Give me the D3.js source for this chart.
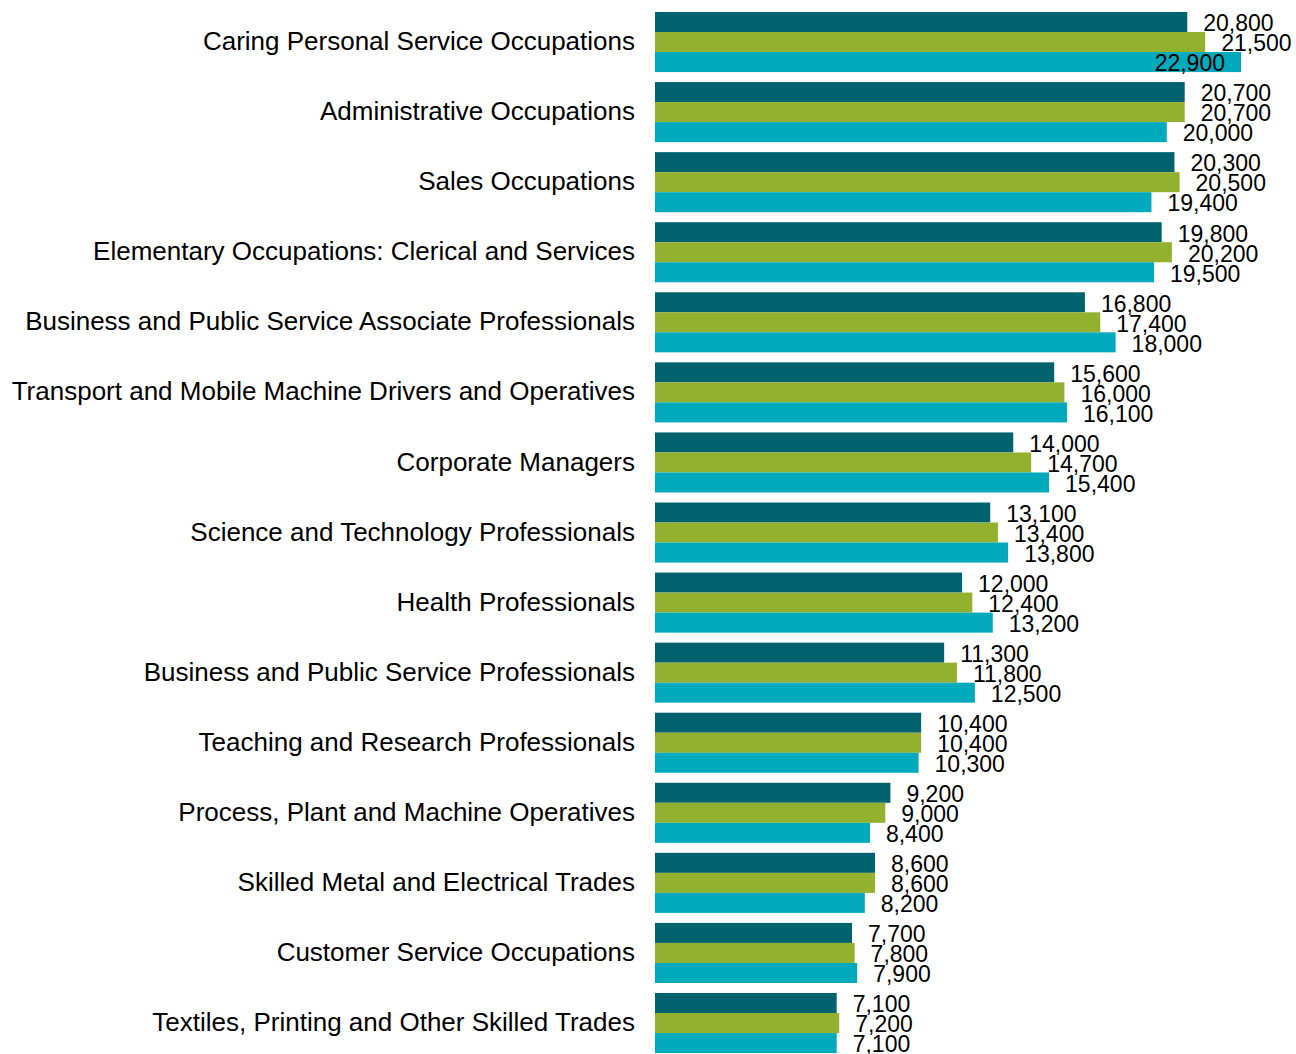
<!DOCTYPE html>
<html><head><meta charset="utf-8">
<script src="https://cdn.jsdelivr.net/npm/d3@7"></script>
<style>body{margin:0;background:#fff}svg{display:block}text{font-family:"Liberation Sans",Arial,sans-serif;fill:#000}</style>
</head><body><svg id="c" width="1296" height="1054"></svg>
<script>
const categories = [
 "Caring Personal Service Occupations",
 "Administrative Occupations",
 "Sales Occupations",
 "Elementary Occupations: Clerical and Services",
 "Business and Public Service Associate Professionals",
 "Transport and Mobile Machine Drivers and Operatives",
 "Corporate Managers",
 "Science and Technology Professionals",
 "Health Professionals",
 "Business and Public Service Professionals",
 "Teaching and Research Professionals",
 "Process, Plant and Machine Operatives",
 "Skilled Metal and Electrical Trades",
 "Customer Service Occupations",
 "Textiles, Printing and Other Skilled Trades"
];
const series1 = [20800,20700,20300,19800,16800,15600,14000,13100,12000,11300,10400,9200,8600,7700,7100];
const series2 = [21500,20700,20500,20200,17400,16000,14700,13400,12400,11800,10400,9000,8600,7800,7200];
const series3 = [22900,20000,19400,19500,18000,16100,15400,13800,13200,12500,10300,8400,8200,7900,7100];
const seriesNames = ["Series 1","Series 2","Series 3"];
const colors = ["#02636f","#93b02f","#00aabd"];

const svg = d3.select("#c");
const W = 1296;
const x = d3.scaleLinear().domain([0,22900]).range([655,1241]);
const step = 70.07, pi = 10/70.07;
const y0 = 12 - step*pi/2;
const y = d3.scaleBand().domain(categories).range([y0, y0 + step*categories.length]).paddingInner(pi).paddingOuter(pi/2);
const ys = d3.scaleBand().domain(seriesNames).range([0, y.bandwidth()]);
const all = [series1,series2,series3];
const fmt = d3.format(",");

const g = svg.selectAll("g.cat").data(categories).join("g").attr("class","cat")
  .attr("transform", d => `translate(0,${y(d)})`);

g.append("text").attr("x",635).attr("y", y.bandwidth()/2 - 1).attr("dy","0.35em")
  .attr("text-anchor","end").style("font-size","26px").text(d=>d);

categories.forEach((c,i)=>{
  const gg = g.filter(d=>d===c);
  seriesNames.forEach((s,j)=>{
    const v = all[j][i];
    gg.append("rect").attr("x",x(0)).attr("y",ys(s)).attr("width",x(v)-x(0)).attr("height",ys.bandwidth())
      .attr("fill",colors[j]);
  });
  seriesNames.forEach((s,j)=>{
    const v = all[j][i];
    const t = gg.append("text").attr("y",ys(s)+ys.bandwidth()/2 + 1).attr("dy","0.36em")
      .style("font-size","23px").text(fmt(v));
    const xe = x(v)+16;
    t.attr("x",xe);
    const w = t.node().getComputedTextLength();
    if (xe + w > W) t.attr("x", x(v)-16).attr("text-anchor","end");
  });
});
</script></body></html>
